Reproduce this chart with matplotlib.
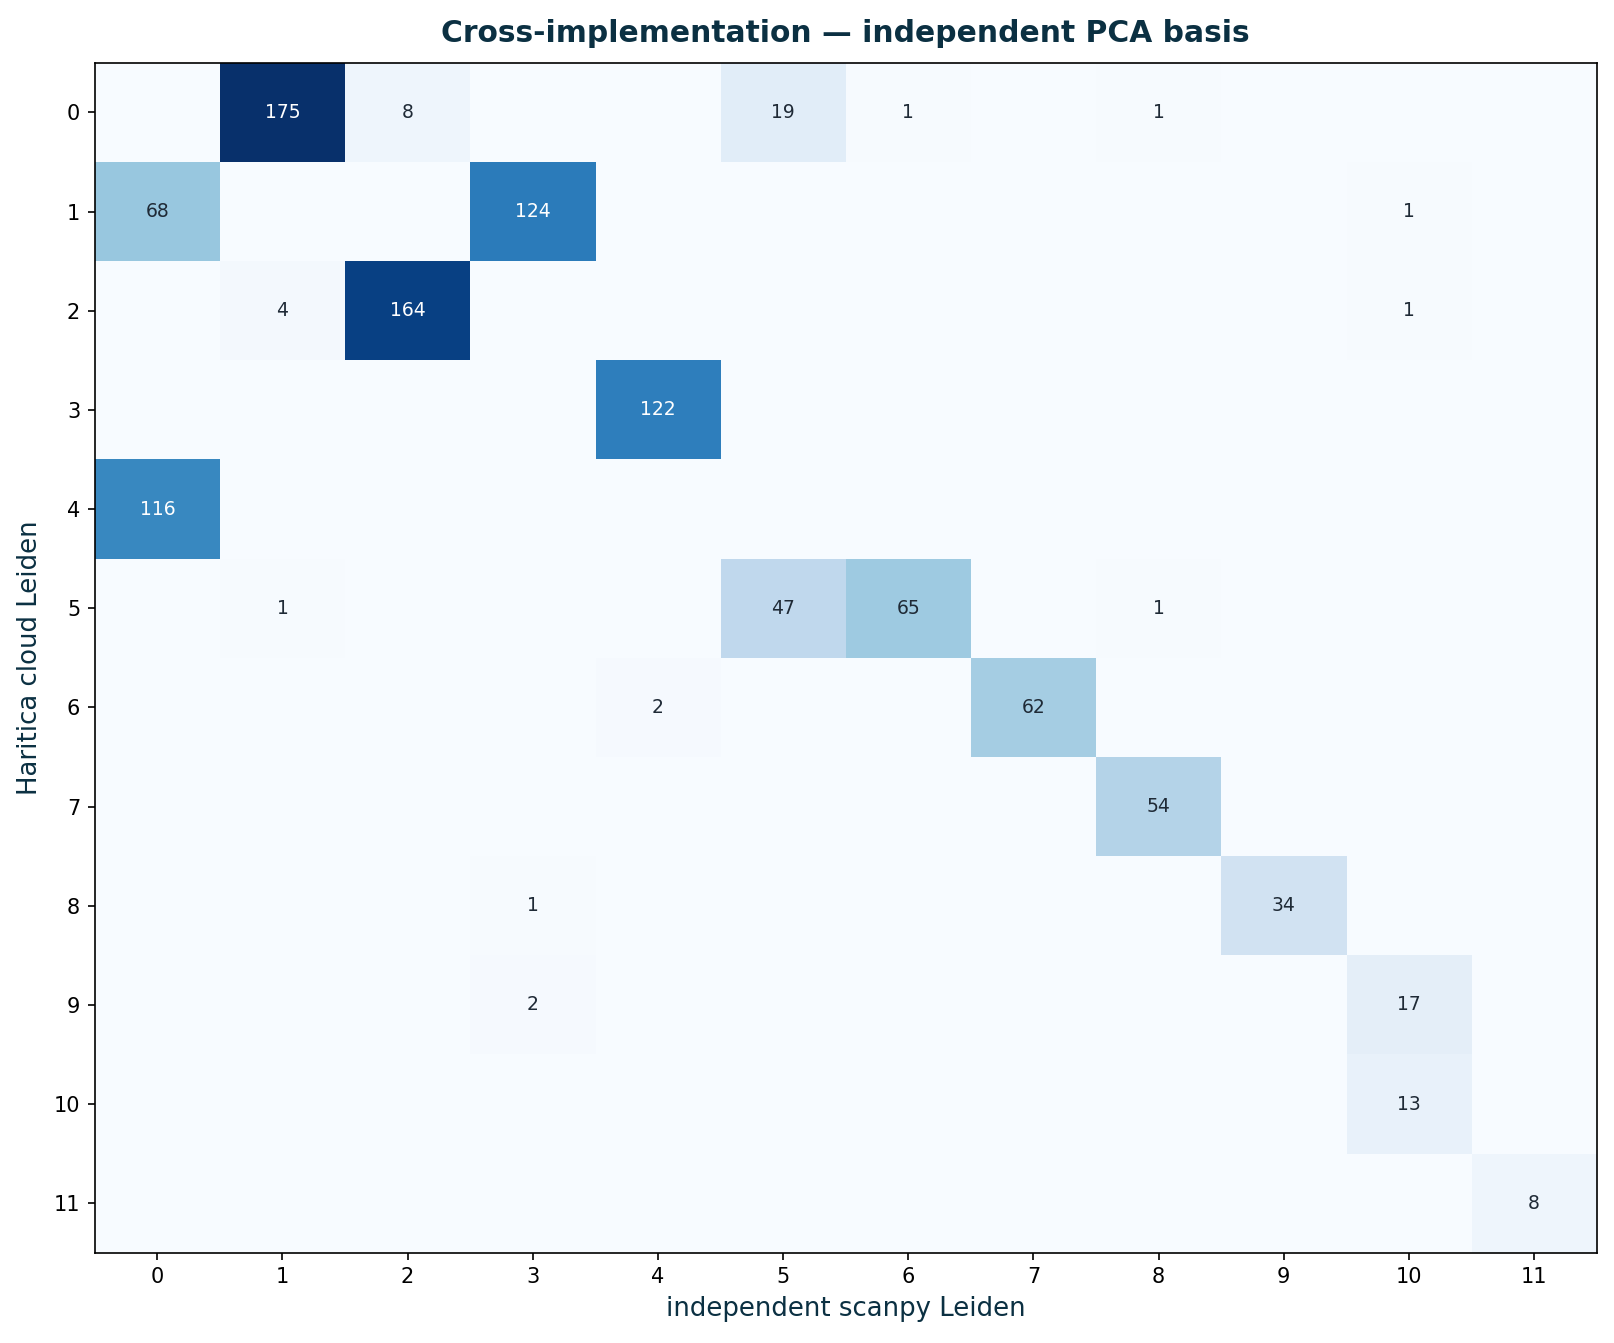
import numpy as np
import matplotlib.pyplot as plt

# contingency table: rows = Haritica cloud Leiden, cols = independent scanpy Leiden
row_clusters = list(range(12))
col_clusters = list(range(12))

row_0 = [0, 175, 8, 0, 0, 19, 1, 0, 1, 0, 0, 0]
row_1 = [68, 0, 0, 124, 0, 0, 0, 0, 0, 0, 1, 0]
row_2 = [0, 4, 164, 0, 0, 0, 0, 0, 0, 0, 1, 0]
row_3 = [0, 0, 0, 0, 122, 0, 0, 0, 0, 0, 0, 0]
row_4 = [116, 0, 0, 0, 0, 0, 0, 0, 0, 0, 0, 0]
row_5 = [0, 1, 0, 0, 0, 47, 65, 0, 1, 0, 0, 0]
row_6 = [0, 0, 0, 0, 2, 0, 0, 62, 0, 0, 0, 0]
row_7 = [0, 0, 0, 0, 0, 0, 0, 0, 54, 0, 0, 0]
row_8 = [0, 0, 0, 1, 0, 0, 0, 0, 0, 34, 0, 0]
row_9 = [0, 0, 0, 2, 0, 0, 0, 0, 0, 0, 17, 0]
row_10 = [0, 0, 0, 0, 0, 0, 0, 0, 0, 0, 13, 0]
row_11 = [0, 0, 0, 0, 0, 0, 0, 0, 0, 0, 0, 8]

counts = np.array([row_0, row_1, row_2, row_3, row_4, row_5,
                   row_6, row_7, row_8, row_9, row_10, row_11])

title_color = "#0b3042"

fig = plt.figure(figsize=(1614 / 150, 1343 / 150), dpi=150)
ax = fig.add_axes([0.0587, 0.0672, 0.9305, 0.886])

im = ax.imshow(counts, cmap="Blues", aspect="auto", interpolation="nearest")

vmax = counts.max()
for i in range(counts.shape[0]):
    for j in range(counts.shape[1]):
        v = counts[i, j]
        if v == 0:
            continue
        color = "white" if v > vmax / 2 else "#1f2a36"
        ax.text(j, i, str(v), ha="center", va="center", fontsize=9, color=color)

ax.set_xticks(range(len(col_clusters)))
ax.set_xticklabels([str(c) for c in col_clusters])
ax.set_yticks(range(len(row_clusters)))
ax.set_yticklabels([str(r) for r in row_clusters])
ax.tick_params(labelsize=10)

ax.set_xlabel("independent scanpy Leiden", fontsize=12.5, color=title_color)
ax.set_ylabel("Haritica cloud Leiden", fontsize=12.5, color=title_color, labelpad=5)
ax.set_title("Cross-implementation \u2014 independent PCA basis",
             fontsize=14.3, fontweight="bold", color=title_color, pad=10)

fig.savefig("out.png", dpi=150)
